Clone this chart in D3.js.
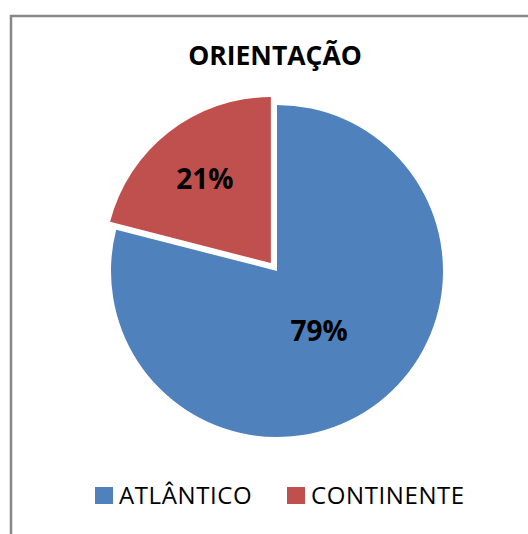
<!DOCTYPE html>
<html lang="pt">
  <head>
    <meta charset="UTF-8" />
    <script src="https://d3js.org/d3.v7.min.js"></script>
    <title>Orientação</title>
    <style>
      body { margin: 0; background: #fff; }
      text { font-family: "Open Sans", "Noto Sans", sans-serif; }
    </style>
  </head>
  <body>
    <svg id="chart" width="528" height="534"></svg>
    <script>
      // data
      var categories = ['ATLÂNTICO', 'CONTINENTE'];
      var values = [79, 21];
      var labels = ['79%', '21%'];
      var colors = ['#4f81bd', '#c0504d'];

      var svg = d3.select('#chart'),
        width = +svg.attr('width'),
        height = +svg.attr('height');

      svg.append('rect').attr('width', width).attr('height', height).attr('fill', '#fff');

      // chart frame (only top and left edges are visible)
      svg.append('path')
        .attr('d', 'M11,534V16H528')
        .attr('fill', 'none')
        .attr('stroke', '#878787')
        .attr('stroke-width', 2.5);

      // title
      svg.append('text')
        .attr('x', 275)
        .attr('y', 65)
        .attr('text-anchor', 'middle')
        .attr('font-size', 26.5)
        .attr('font-weight', 'bold')
        .attr('fill', '#000')
        .text('ORIENTAÇÃO');

      // pie
      var cx = 277, cy = 271, r = 166, explode = 10;
      var pie = d3.pie().sort(null).value(function(d) { return d; });
      var arcs = pie(values);
      var arc = d3.arc().innerRadius(0).outerRadius(r);

      var g = svg.append('g').attr('transform', 'translate(' + cx + ',' + cy + ')');

      var slices = g.selectAll('g.slice')
        .data(arcs)
        .enter()
        .append('g')
        .attr('class', 'slice')
        .attr('transform', function(d, i) {
          if (i === 0) return null;
          var a = (d.startAngle + d.endAngle) / 2;
          return 'translate(' + (Math.sin(a) * explode) + ',' + (-Math.cos(a) * explode) + ')';
        });

      slices.append('path')
        .attr('d', arc)
        .attr('fill', function(d, i) { return colors[i]; });

      // label offsets from the slice origin
      var labelPos = [[42, 60], [-66, -84]];
      slices.append('text')
        .attr('x', function(d, i) { return labelPos[i][0]; })
        .attr('y', function(d, i) { return labelPos[i][1]; })
        .attr('text-anchor', 'middle')
        .attr('dy', '0.36em')
        .attr('font-size', 28)
        .attr('font-weight', 'bold')
        .attr('fill', '#000')
        .text(function(d, i) { return labels[i]; });

      // legend
      var legendX = [95, 287];
      var legend = svg.selectAll('g.legend')
        .data(categories)
        .enter()
        .append('g')
        .attr('class', 'legend')
        .attr('transform', function(d, i) { return 'translate(' + legendX[i] + ',487)'; });

      legend.append('rect')
        .attr('width', 18)
        .attr('height', 17)
        .attr('fill', function(d, i) { return colors[i]; });

      legend.append('text')
        .attr('x', 24)
        .attr('y', 17)
        .attr('font-size', 24)
        .attr('letter-spacing', 0.6)
        .attr('fill', '#000')
        .text(function(d) { return d; });
    </script>
  </body>
</html>
